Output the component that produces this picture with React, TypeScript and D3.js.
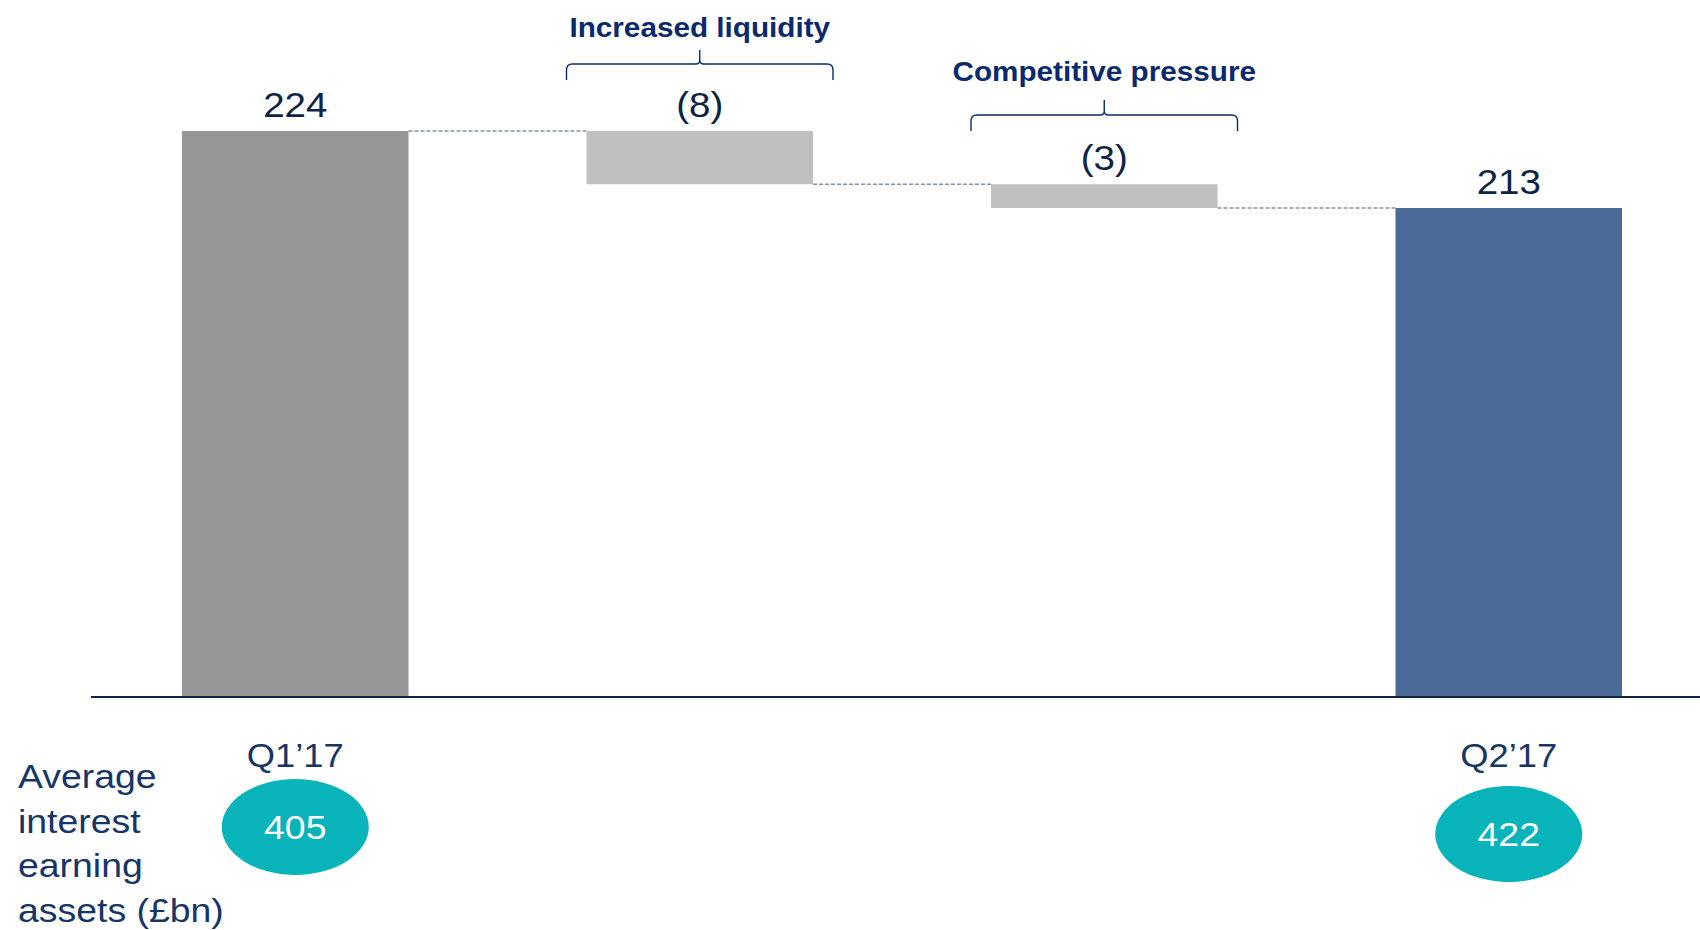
import * as d3 from "d3";

// waterfall: Q1'17 NIM bridge to Q2'17 (bps)
const categories = ["Q1’17", "Increased liquidity", "Competitive pressure", "Q2’17"];
const values = [224, -7.6, -3.4, 213];
const kinds = ["total", "delta", "delta", "total"];
const driverTitles = ["", "Increased liquidity", "Competitive pressure", ""];
const periodLabels = ["Q1’17", "", "", "Q2’17"];
const assetValues = [405, null, null, 422];
const sideLabelLines = ["Average", "interest", "earning", "assets (£bn)"];

// axis is broken: bars start from this value, not zero
const axisFloor = 143.3;

const width = 1700;
const height = 930;
const baseY = 696;
const FONT = "'Liberation Sans', Arial, sans-serif";
const SX = 1.1; // the source slide text is a bit stretched horizontally

const NAVY = "#0d2345";
const TITLE_NAVY = "#0b2a6e";
const LABEL_NAVY = "#173566";
const barColors = { first: "#969696", delta: "#c0c0c0", last: "#4c6a98" };

function SText({ x, y, size, fill, weight = 400, anchor = "middle", children }: any) {
  return (
    <g transform={`translate(${x},${y}) scale(${SX},1)`}>
      <text
        textAnchor={anchor}
        fontFamily={FONT}
        fontSize={size}
        fontWeight={weight}
        fill={fill}
      >
        {children}
      </text>
    </g>
  );
}

function bracePath(x0: number, x1: number, yTip: number, yMid: number, yEnd: number) {
  const xc = (x0 + x1) / 2;
  const r = 6;
  const c = 4;
  return (
    `M${x0},${yEnd} V${yMid + r} Q${x0},${yMid} ${x0 + r},${yMid} H${xc - c} ` +
    `Q${xc},${yMid} ${xc},${yMid - c} V${yTip} ` +
    `M${xc},${yMid - c} Q${xc},${yMid} ${xc + c},${yMid} H${x1 - r} ` +
    `Q${x1},${yMid} ${x1},${yMid + r} V${yEnd}`
  );
}

export default function App() {
  const x = d3
    .scaleBand<string>()
    .domain(categories)
    .range([182, 1622])
    .paddingInner(0.44)
    .paddingOuter(0);

  const y = d3.scaleLinear().domain([axisFloor, 224]).range([baseY, 131]);

  // build the steps
  let running = 0;
  const steps = categories.map((cat, i) => {
    const v = values[i];
    let lo: number, hi: number;
    if (kinds[i] === "total") {
      lo = axisFloor;
      hi = v;
      running = v;
    } else {
      hi = running;
      lo = running + v;
      running = lo;
    }
    const label = kinds[i] === "total" ? String(v) : `(${Math.round(-v)})`;
    const color =
      i === 0 ? barColors.first : kinds[i] === "total" ? barColors.last : barColors.delta;
    return { cat, i, lo, hi, end: running, label, color };
  });

  const bw = x.bandwidth();

  // brace placement per driver (tip / horizontal / ends) and title baseline
  const braceOffsets = [
    null,
    { tip: 50, mid: 64, end: 80, title: 37 },
    { tip: 100, mid: 115, end: 131, title: 81 },
    null,
  ];

  return (
    <svg
      width={width}
      height={height}
      style={{ position: "fixed", left: 0, top: 0, background: "#fff" }}
    >
      {/* dashed connectors */}
      {steps.slice(0, -1).map((s, i) => {
        const next = steps[i + 1];
        const yy = y(s.end);
        return (
          <line
            key={"c" + i}
            x1={x(s.cat)! + bw}
            x2={x(next.cat)!}
            y1={yy}
            y2={yy}
            stroke="#8592a6"
            strokeWidth={1.4}
            strokeDasharray="4,2"
          />
        );
      })}

      {/* bars */}
      {steps.map((s) => (
        <rect
          key={"b" + s.i}
          x={x(s.cat)}
          y={y(s.hi)}
          width={bw}
          height={y(s.lo) - y(s.hi)}
          fill={s.color}
        />
      ))}

      {/* value labels */}
      {steps.map((s) => (
        <SText
          key={"v" + s.i}
          x={x(s.cat)! + bw / 2}
          y={y(s.hi) - 14}
          size={35}
          fill={NAVY}
        >
          {s.label}
        </SText>
      ))}

      {/* driver braces and titles */}
      {steps.map((s) => {
        const b = braceOffsets[s.i];
        if (!b) return null;
        const x0 = x(s.cat)! - 20;
        const x1 = x(s.cat)! + bw + 20;
        return (
          <g key={"d" + s.i}>
            <path
              d={bracePath(x0, x1, b.tip, b.mid, b.end)}
              fill="none"
              stroke={TITLE_NAVY}
              strokeWidth={1.4}
            />
            <SText x={(x0 + x1) / 2} y={b.title} size={27} weight={700} fill={TITLE_NAVY}>
              {driverTitles[s.i]}
            </SText>
          </g>
        );
      })}

      {/* baseline */}
      <line x1={91} x2={width} y1={baseY + 1} y2={baseY + 1} stroke={NAVY} strokeWidth={2.2} />

      {/* period labels and asset ellipses */}
      {steps.map((s) => {
        if (!periodLabels[s.i]) return null;
        const cx = x(s.cat)! + bw / 2;
        const cy = s.i === 0 ? 827 : 834;
        return (
          <g key={"p" + s.i}>
            <SText x={cx} y={767} size={33} fill={LABEL_NAVY}>
              {periodLabels[s.i]}
            </SText>
            <ellipse cx={cx} cy={cy} rx={73.5} ry={48} fill="#08b4ba" />
            <SText x={cx} y={cy + 12} size={34} fill="#ffffff">
              {assetValues[s.i]}
            </SText>
          </g>
        );
      })}

      {/* side label */}
      {sideLabelLines.map((t, i) => (
        <SText key={"s" + i} x={18} y={788 + i * 44.5} size={34} fill={LABEL_NAVY} anchor="start">
          {t}
        </SText>
      ))}
    </svg>
  );
}
